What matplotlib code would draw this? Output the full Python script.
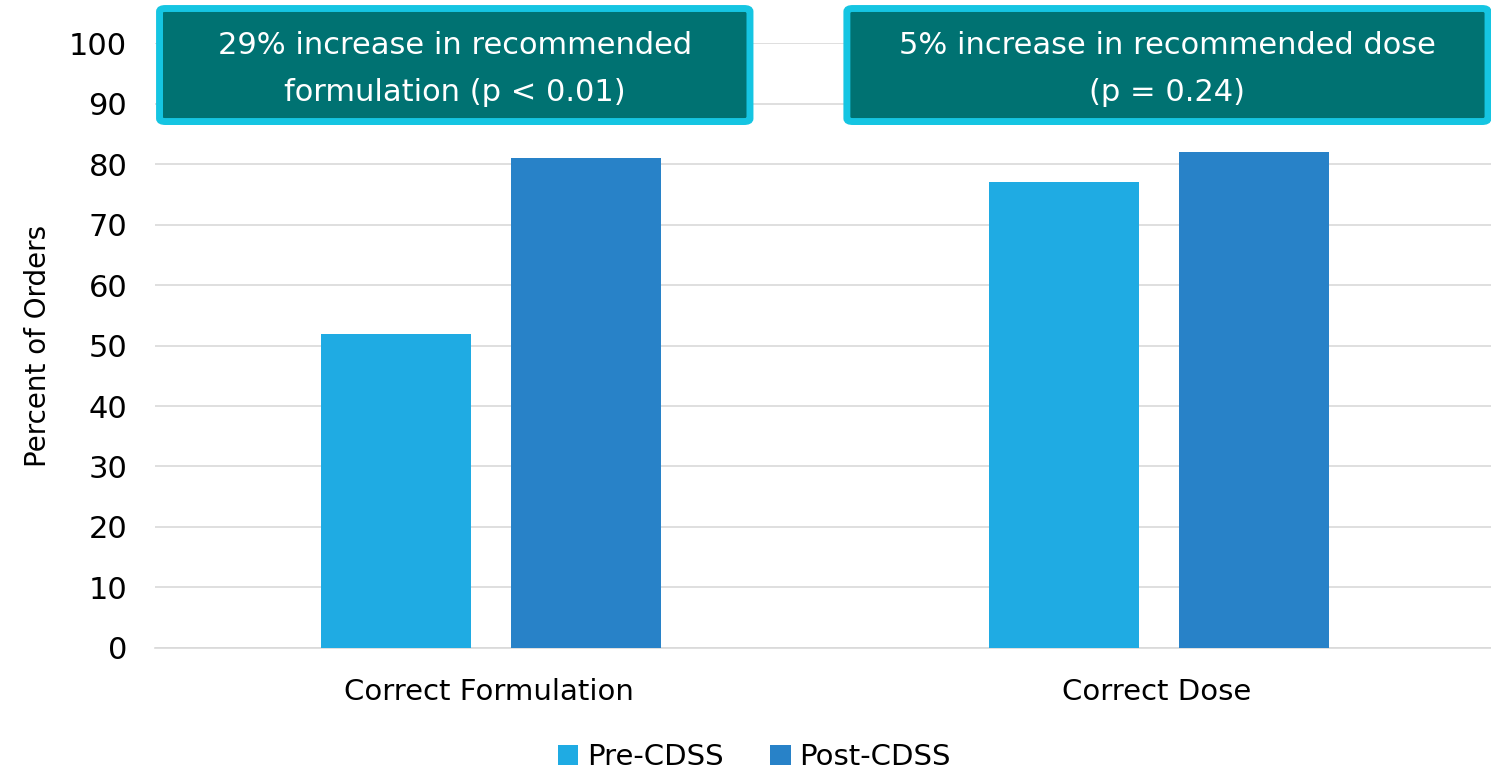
import matplotlib
matplotlib.use("Agg")
import matplotlib.pyplot as plt
import numpy as np
from matplotlib.patches import FancyBboxPatch

plt.rcParams["font.family"] = ["DejaVu Sans"]

categories = ["Correct Formulation", "Correct Dose"]
pre_cdss = [52, 77]
post_cdss = [81, 82]
series_names = ["Pre-CDSS", "Post-CDSS"]
notes = ["29% increase in recommended\nformulation (p < 0.01)",
         "5% increase in recommended dose\n(p = 0.24)"]

pre_color = "#1FABE3"
post_color = "#2882C8"

fig = plt.figure(figsize=(14.91, 7.74), dpi=100)
ax = fig.add_axes([0.104, 0.163, 0.896, 0.781])

x = np.arange(len(categories))
w = 0.225
ax.bar(x - 0.139, pre_cdss, w, color=pre_color, label=series_names[0], zorder=3)
ax.bar(x + 0.145, post_cdss, w, color=post_color, label=series_names[1], zorder=3)

ax.set_xlim(-0.5, 1.5)
ax.set_ylim(0, 100)
ax.set_yticks(range(0, 101, 10))
ax.set_xticks(x)
ax.set_xticklabels(categories, fontsize=21)
ax.tick_params(axis="y", labelsize=22, length=0, pad=20)
ax.tick_params(axis="x", length=0, pad=22)
ax.yaxis.grid(True, color="#D9D9D9", linewidth=1.2, zorder=0)
for s in ["top", "right", "left"]:
    ax.spines[s].set_visible(False)
ax.spines["bottom"].set_color("#D9D9D9")
ax.spines["bottom"].set_linewidth(1.2)
ax.set_ylabel("Percent of Orders", fontsize=20, labelpad=12)

# annotation boxes across the top
boxes = [(0.107, 0.396), (0.568, 0.430)]
for (bx, bw), txt in zip(boxes, notes):
    fig.patches.append(FancyBboxPatch((bx, 0.843), bw, 0.146,
                                      boxstyle="round,pad=0,rounding_size=0.004",
                                      transform=fig.transFigure,
                                      facecolor="#007272", edgecolor="#15C5E2",
                                      linewidth=5, zorder=5))
    fig.text(bx + bw / 2, 0.911, txt, ha="center", va="center", color="white",
             fontsize=22, linespacing=1.75, zorder=6)

fig.legend(loc="center", bbox_to_anchor=(0.506, 0.022), ncol=2, frameon=False,
           fontsize=21, handlelength=0.7, handleheight=0.7, handletextpad=0.3,
           columnspacing=1.6)

fig.savefig("out.png", dpi=100)
